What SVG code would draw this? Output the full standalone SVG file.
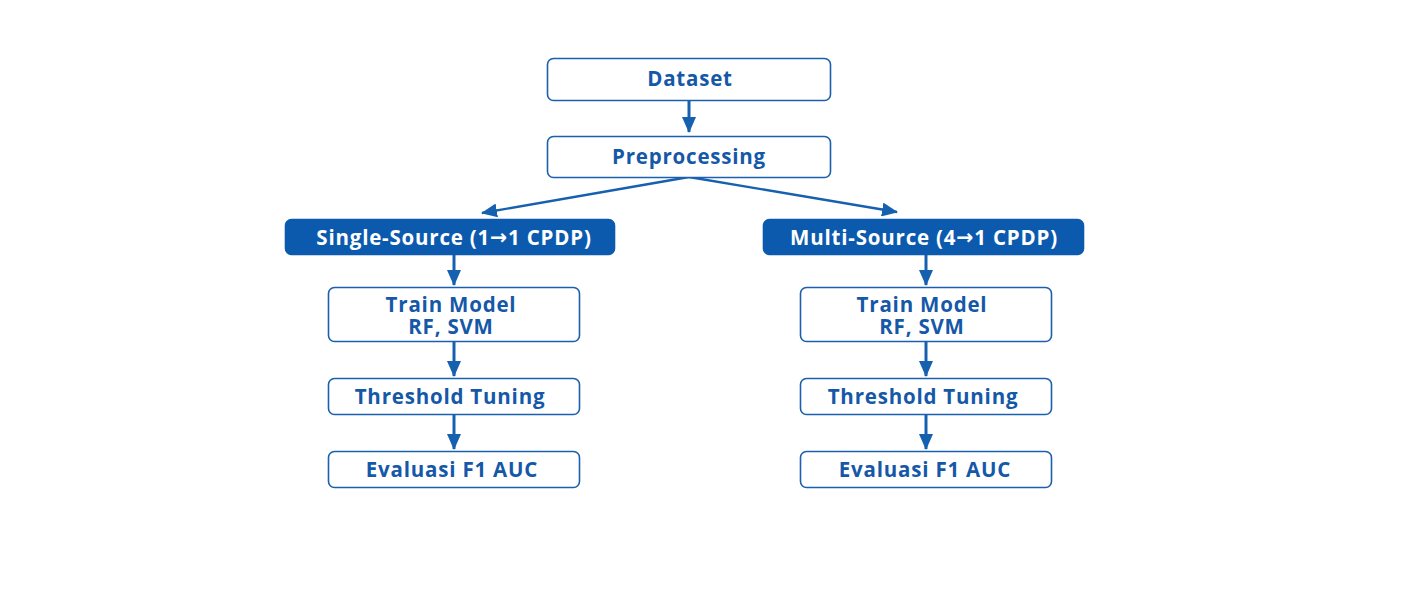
<svg xmlns="http://www.w3.org/2000/svg" width="1408" height="610" viewBox="0 0 1408 610">
<defs>
<style>
.box{fill:#ffffff;stroke:#1b5fae;stroke-width:1.6}
.dark{fill:#0c5aae;stroke:#0c5aae;stroke-width:1.6}
.t{font-family:"Open Sans","Liberation Sans",sans-serif;font-weight:700;font-size:20.5px;fill:#1558a8;text-anchor:middle;dominant-baseline:central;letter-spacing:0.8px}
.tw{fill:#ffffff}
.arr{font-family:"DejaVu Sans",sans-serif;font-weight:700}
.conn{stroke:#1660b0;stroke-width:3;fill:none}
.connd{stroke:#1660b0;stroke-width:2.4;fill:none}
</style>
<marker id="ah" markerUnits="userSpaceOnUse" markerWidth="16" markerHeight="14" viewBox="0 0 16 14" refX="15" refY="7" orient="auto">
<path d="M0,0 L16,7 L0,14 Z" fill="#1660b0"/>
</marker>
</defs>
<rect width="1408" height="610" fill="#ffffff"/>
<g id="connectors">
<line class="conn" x1="689" y1="100" x2="689" y2="132" marker-end="url(#ah)"/>
<line class="connd" x1="689" y1="177" x2="482" y2="213" marker-end="url(#ah)"/>
<line class="connd" x1="689" y1="177" x2="897" y2="212" marker-end="url(#ah)"/>
<line class="conn" x1="454" y1="254" x2="454" y2="285" marker-end="url(#ah)"/>
<line class="conn" x1="454" y1="341" x2="454" y2="376" marker-end="url(#ah)"/>
<line class="conn" x1="454" y1="414" x2="454" y2="449" marker-end="url(#ah)"/>
<line class="conn" x1="926" y1="254" x2="926" y2="285" marker-end="url(#ah)"/>
<line class="conn" x1="926" y1="341" x2="926" y2="376" marker-end="url(#ah)"/>
<line class="conn" x1="926" y1="414" x2="926" y2="449" marker-end="url(#ah)"/>
</g>
<g id="dataset">
<rect class="box" x="547.5" y="58.5" width="283" height="42" rx="6"/>
<text class="t" x="690" y="78">Dataset</text>
</g>
<g id="preprocessing">
<rect class="box" x="547.5" y="136.5" width="283" height="41" rx="6"/>
<text class="t" x="689" y="156">Preprocessing</text>
</g>
<g id="single-source">
<rect class="dark" x="285.5" y="219.5" width="329" height="35" rx="6"/>
<text class="t tw" x="454" y="237">Single-Source (1<tspan class="arr">→</tspan>1 CPDP)</text>
</g>
<g id="multi-source">
<rect class="dark" x="763.5" y="219.5" width="320" height="35" rx="6"/>
<text class="t tw" x="924" y="237">Multi-Source (4<tspan class="arr">→</tspan>1 CPDP)</text>
</g>
<g id="train-left">
<rect class="box" x="328.5" y="287.5" width="251" height="54" rx="6"/>
<text class="t" x="451" y="304">Train Model</text>
<text class="t" x="451" y="326">RF, SVM</text>
</g>
<g id="threshold-left">
<rect class="box" x="328.5" y="378.5" width="251" height="36" rx="6"/>
<text class="t" x="450" y="396">Threshold Tuning</text>
</g>
<g id="eval-left">
<rect class="box" x="328.5" y="451.5" width="251" height="36" rx="6"/>
<text class="t" x="452" y="469">Evaluasi F1 AUC</text>
</g>
<g id="train-right">
<rect class="box" x="800.5" y="287.5" width="251" height="54" rx="6"/>
<text class="t" x="922" y="304">Train Model</text>
<text class="t" x="922" y="326">RF, SVM</text>
</g>
<g id="threshold-right">
<rect class="box" x="800.5" y="378.5" width="251" height="36" rx="6"/>
<text class="t" x="923" y="396">Threshold Tuning</text>
</g>
<g id="eval-right">
<rect class="box" x="800.5" y="451.5" width="251" height="36" rx="6"/>
<text class="t" x="925" y="469">Evaluasi F1 AUC</text>
</g>
</svg>
